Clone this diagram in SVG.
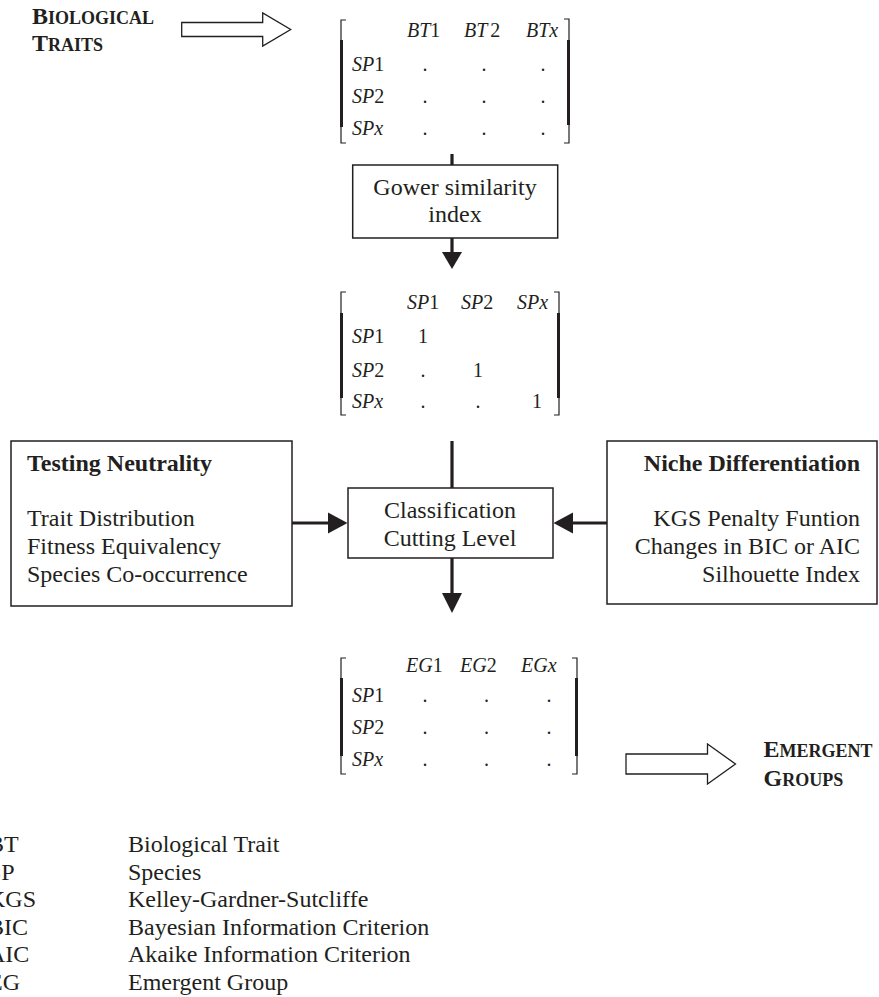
<svg xmlns="http://www.w3.org/2000/svg" width="879" height="997" viewBox="0 0 879 997">
<style>
text{font-family:"Liberation Serif","Times New Roman",serif;fill:#231f20;font-size:24px}
.b{font-weight:bold}
.m{font-size:20px}
.i{font-style:italic}
.box{fill:#fff;stroke:#231f20;stroke-width:1.5}
.hollow{fill:#fff;stroke:#231f20;stroke-width:1.3}
.conn{stroke:#231f20;stroke-width:3.2;fill:none}
.head{fill:#231f20}
.br{fill:none;stroke:#231f20;stroke-width:1.2}
.brt{fill:none;stroke:#231f20;stroke-width:3}
.c{text-anchor:middle}
.r{text-anchor:end}
</style>

<g id="biological-traits">
<text class="b" x="32" y="24">B<tspan font-size="18">IOLOGICAL</tspan></text>
<text class="b" x="32" y="51">T<tspan font-size="18">RAITS</tspan></text>
<polygon class="hollow" points="181.7,22.5 262.7,22.5 262.7,13 290.7,29.5 262.7,46 262.7,36.5 181.7,36.5"/>
</g>

<g id="matrix-traits">
<path class="br" d="M346,20 H341 V143 H346"/>
<path class="brt" d="M341.5,40 V127"/>
<path class="br" d="M564,19 H569 V143 H564"/>
<path class="brt" d="M568.5,40 V125"/>
<text class="m" y="37"><tspan class="i" x="407">BT</tspan>1<tspan class="i" x="464">BT</tspan><tspan dx="3">2</tspan><tspan class="i" x="526">BTx</tspan></text>
<text class="m" x="352" y="71"><tspan class="i">SP</tspan>1</text>
<text class="m" x="352" y="103"><tspan class="i">SP</tspan>2</text>
<text class="m i" x="352" y="135">SPx</text>
<text class="m c" y="71"><tspan x="425">.</tspan><tspan x="484">.</tspan><tspan x="543">.</tspan></text>
<text class="m c" y="103"><tspan x="425">.</tspan><tspan x="484">.</tspan><tspan x="543">.</tspan></text>
<text class="m c" y="135"><tspan x="425">.</tspan><tspan x="484">.</tspan><tspan x="543">.</tspan></text>
</g>

<g id="gower">
<rect class="box" x="352.7" y="165" width="205" height="73"/>
<text class="c" x="455" y="195">Gower similarity</text>
<text class="c" x="455" y="222">index</text>
</g>

<g id="matrix-similarity">
<path class="br" d="M346,292 H341 V415 H346"/>
<path class="brt" d="M341.5,313 V398"/>
<path class="br" d="M554,292 H559 V415 H554"/>
<path class="brt" d="M558.5,313 V398"/>
<text class="m" y="309"><tspan class="i" x="407">SP</tspan>1<tspan class="i" x="461">SP</tspan>2<tspan class="i" x="517">SPx</tspan></text>
<text class="m" x="352" y="343"><tspan class="i">SP</tspan>1</text>
<text class="m" x="352" y="377"><tspan class="i">SP</tspan>2</text>
<text class="m i" x="352" y="408">SPx</text>
<text class="m c" x="423" y="343">1</text>
<text class="m c" y="377"><tspan x="423">.</tspan><tspan x="478">1</tspan></text>
<text class="m c" y="408"><tspan x="423">.</tspan><tspan x="478">.</tspan><tspan x="537">1</tspan></text>
</g>

<g id="testing-neutrality">
<rect class="box" x="11" y="441" width="281" height="165"/>
<text class="b" x="27" y="471">Testing Neutrality</text>
<text x="27" y="526">Trait Distribution</text>
<text x="27" y="554">Fitness Equivalency</text>
<text x="27" y="582">Species Co-occurrence</text>
</g>

<g id="classification">
<rect class="box" x="348" y="488" width="205" height="70"/>
<text class="c" x="450" y="518">Classification</text>
<text class="c" x="450" y="546">Cutting Level</text>
</g>

<g id="niche-differentiation">
<rect class="box" x="607" y="441" width="270" height="163"/>
<text class="b r" x="860" y="471">Niche Differentiation</text>
<text class="r" x="860" y="526">KGS Penalty Funtion</text>
<text class="r" x="860" y="554">Changes in BIC or AIC</text>
<text class="r" x="860" y="582">Silhouette Index</text>
</g>

<g id="matrix-groups">
<path class="br" d="M346,658 H341 V774 H346"/>
<path class="brt" d="M341.5,678 V756"/>
<path class="br" d="M572,658 H577 V774 H572"/>
<path class="brt" d="M576.5,678 V756"/>
<text class="m" y="672"><tspan class="i" x="406">EG</tspan>1<tspan class="i" x="460">EG</tspan>2<tspan class="i" x="521">EGx</tspan></text>
<text class="m" x="352" y="702"><tspan class="i">SP</tspan>1</text>
<text class="m" x="352" y="734"><tspan class="i">SP</tspan>2</text>
<text class="m i" x="352" y="766">SPx</text>
<text class="m c" y="702"><tspan x="425">.</tspan><tspan x="486.5">.</tspan><tspan x="549">.</tspan></text>
<text class="m c" y="734"><tspan x="425">.</tspan><tspan x="486.5">.</tspan><tspan x="549">.</tspan></text>
<text class="m c" y="766"><tspan x="425">.</tspan><tspan x="486.5">.</tspan><tspan x="549">.</tspan></text>
</g>

<g id="emergent-groups">
<polygon class="hollow" points="626,754 707.5,754 707.5,744 735.5,764 707.5,784 707.5,774 626,774"/>
<text class="b" x="763.5" y="756.5">E<tspan font-size="18">MERGENT</tspan></text>
<text class="b" x="763.5" y="786">G<tspan font-size="18">ROUPS</tspan></text>
</g>

<g id="connectors">
<line class="conn" x1="452" y1="154" x2="452" y2="165"/>
<line class="conn" x1="452" y1="238" x2="452" y2="253"/>
<polygon class="head" points="442,252 462,252 452,269"/>
<line class="conn" x1="452" y1="441" x2="452" y2="488"/>
<line class="conn" x1="452" y1="558" x2="452" y2="594"/>
<polygon class="head" points="442,593 462,593 452,613"/>
<line class="conn" x1="292" y1="523" x2="329" y2="523"/>
<polygon class="head" points="328,512.5 347.5,523 328,533.5"/>
<line class="conn" x1="607" y1="523" x2="572" y2="523"/>
<polygon class="head" points="573,512.5 553.5,523 573,533.5"/>
</g>

<g id="legend">
<text x="-12" y="852">BT</text><text x="128" y="852">Biological Trait</text>
<text x="-12" y="880">SP</text><text x="128" y="880">Species</text>
<text x="-12" y="907">KGS</text><text x="128" y="907">Kelley-Gardner-Sutcliffe</text>
<text x="-12" y="935">BIC</text><text x="128" y="935">Bayesian Information Criterion</text>
<text x="-12" y="962">AIC</text><text x="128" y="962">Akaike Information Criterion</text>
<text x="-12" y="990">EG</text><text x="128" y="990">Emergent Group</text>
</g>
</svg>
